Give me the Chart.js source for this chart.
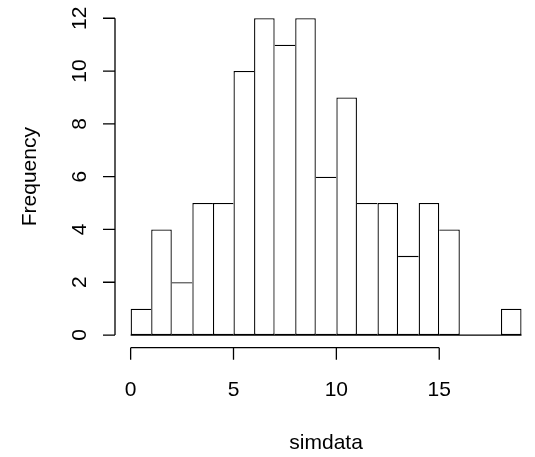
<!DOCTYPE html>
<html>
<head>
<meta charset="utf-8">
<script src="https://cdn.jsdelivr.net/npm/chart.js@4/dist/chart.umd.min.js"></script>
<style>
  html, body { margin: 0; padding: 0; background: #fff; }
  .chart-container { position: relative; width: 535px; height: 457px; }
</style>
</head>
<body>
<div class="chart-container">
  <canvas id="histChart"></canvas>
</div>
<script>
// histogram of simdata, bins of width 1 from 0 to 19
const binStarts = [0, 1, 2, 3, 4, 5, 6, 7, 8, 9, 10, 11, 12, 13, 14, 15, 16, 17, 18];
const counts = [1, 4, 2, 5, 5, 10, 12, 11, 12, 6, 9, 5, 5, 3, 5, 4, 0, 0, 1];
const xTicks = [0, 5, 10, 15];
const yTicks = [0, 2, 4, 6, 8, 10, 12];
const xLabel = "simdata";
const yLabel = "Frequency";

const FONT = '21px "Liberation Sans", Arial, sans-serif';
const LW = 1.3;

// R style axes, drawn off the plot region edge
const rAxes = {
  id: "rAxes",
  beforeDatasetsDraw(chart) {
    const { ctx, scales: { x, y } } = chart;
    // baseline under the bins (shows empty bins too)
    ctx.save();
    ctx.strokeStyle = "#000";
    ctx.lineWidth = LW;
    ctx.beginPath();
    ctx.moveTo(x.getPixelForValue(binStarts[0]), y.getPixelForValue(0));
    ctx.lineTo(x.getPixelForValue(binStarts[binStarts.length - 1] + 1), y.getPixelForValue(0));
    ctx.stroke();
    ctx.restore();
  },
  afterDraw(chart) {
    const { ctx, chartArea, scales: { x, y } } = chart;
    ctx.save();
    ctx.strokeStyle = "#000";
    ctx.fillStyle = "#000";
    ctx.lineWidth = LW;
    ctx.font = FONT;

    // x axis
    const ax = chartArea.bottom;
    ctx.beginPath();
    ctx.moveTo(x.getPixelForValue(xTicks[0]), ax);
    ctx.lineTo(x.getPixelForValue(xTicks[xTicks.length - 1]), ax);
    xTicks.forEach((t) => {
      const px = x.getPixelForValue(t);
      ctx.moveTo(px, ax);
      ctx.lineTo(px, ax + 12);
    });
    ctx.stroke();
    ctx.textAlign = "center";
    ctx.textBaseline = "middle";
    xTicks.forEach((t) => {
      ctx.fillText(String(t), x.getPixelForValue(t), ax + 43);
    });
    ctx.fillText(xLabel, x.getPixelForValue(9.5), ax + 96);

    // y axis
    const ay = chartArea.left;
    ctx.beginPath();
    ctx.moveTo(ay, y.getPixelForValue(yTicks[0]));
    ctx.lineTo(ay, y.getPixelForValue(yTicks[yTicks.length - 1]));
    yTicks.forEach((t) => {
      const py = y.getPixelForValue(t);
      ctx.moveTo(ay, py);
      ctx.lineTo(ay - 12, py);
    });
    ctx.stroke();
    yTicks.forEach((t) => {
      ctx.save();
      ctx.translate(ay - 35, y.getPixelForValue(t));
      ctx.rotate(-Math.PI / 2);
      ctx.fillText(String(t), 0, 0);
      ctx.restore();
    });
    ctx.save();
    ctx.translate(30, y.getPixelForValue(6));
    ctx.rotate(-Math.PI / 2);
    ctx.fillText(yLabel, 0, 0);
    ctx.restore();

    ctx.restore();
  },
};

// draw each shared edge only once (by the taller bin)
function edgeWidths(context) {
  const i = context.dataIndex;
  const v = counts[i];
  const prev = i > 0 ? counts[i - 1] : -1;
  const next = i < counts.length - 1 ? counts[i + 1] : -1;
  return {
    top: LW,
    bottom: LW,
    left: prev <= v ? LW : 0,
    right: next < v ? LW : 0,
  };
}

const ctx = document.getElementById("histChart").getContext("2d");
new Chart(ctx, {
  type: "bar",
  data: {
    datasets: [
      {
        label: yLabel,
        data: binStarts.map((b, i) => ({ x: b + 0.5, y: counts[i] })),
        backgroundColor: "#ffffff",
        borderColor: "#000000",
        borderWidth: edgeWidths,
        borderSkipped: false,
        inflateAmount: 0,
        barPercentage: 1,
        categoryPercentage: 1,
      },
    ],
  },
  options: {
    responsive: true,
    maintainAspectRatio: false,
    animation: false,
    layout: { padding: { left: 115, right: 0, top: 5.6, bottom: 109.3 } },
    plugins: {
      legend: { display: false },
      tooltip: { enabled: false },
    },
    scales: {
      x: { type: "linear", min: -0.76, max: 19.655, offset: false, display: false },
      y: { type: "linear", min: -0.48, max: 12.48, display: false },
    },
  },
  plugins: [rAxes],
});
</script>
</body>
</html>
